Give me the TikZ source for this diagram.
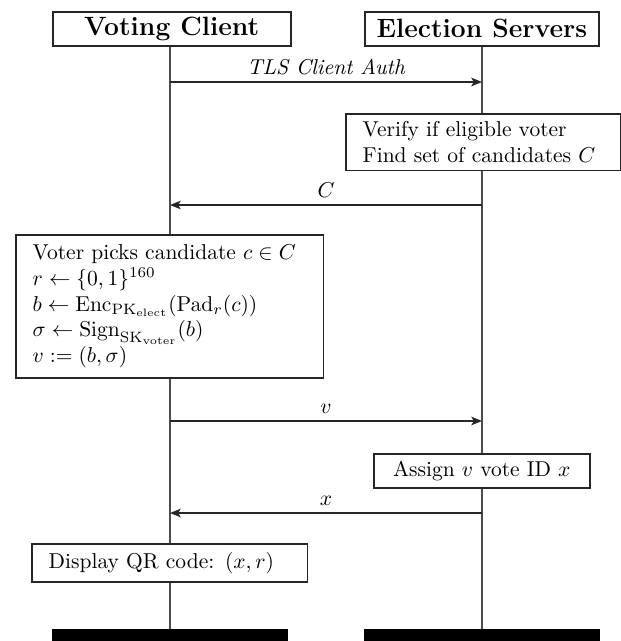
\documentclass[tikz,border=0pt]{standalone}
\usepackage{amsmath,amssymb}
\usetikzlibrary{arrows.meta,backgrounds}
\tikzset{
  hdr/.style={draw=black!85, fill=white, line width=0.7pt, font=\fontsize{12.3}{15}\selectfont\bfseries, inner sep=0pt, minimum height=15.81pt, anchor=north west},
  lbox/.style={draw=black!85, fill=white, line width=0.7pt, anchor=north west, align=left, inner xsep=7.9pt, inner ysep=0pt},
  cbox/.style={draw=black!85, fill=white, line width=0.7pt, anchor=north west, align=center, inner sep=0pt},
  life/.style={line width=0.7pt, draw=black!70},
  msg/.style={line width=0.7pt, draw=black!85, -{Stealth[length=5pt,width=4pt,inset=1.2pt]}},
  lbl/.style={above, inner sep=3pt},
  bar/.style={fill=black, draw=none, anchor=north west, inner sep=0pt, minimum height=5.58pt}
}
\begin{document}
\begin{tikzpicture}[x=0.465pt,y=-0.465pt]
\useasboundingbox (0,0) rectangle (621,641);
% headers
\node[hdr, minimum width=110.67pt] (hA) at (52,11) {Voting Client};
\node[hdr, minimum width=108.81pt] (hB) at (364,11) {Election Servers};
% bottom bars
\node[bar, minimum width=109.74pt] (eA) at (52,629) {};
\node[bar, minimum width=109.74pt] (eB) at (364,629) {};
% lifelines
\begin{pgfonlayer}{background}
\draw[life] (170,45) coordinate (lA0) -- (170,629) coordinate (lA1);
\draw[life] (482,45) coordinate (lB0) -- (482,629) coordinate (lB1);
\end{pgfonlayer}
% messages
\coordinate (m1a) at (170,82); \coordinate (m1b) at (482,82);
\draw[msg] (m1a) -- node[lbl, font=\itshape] (l1) {TLS Client Auth} (m1b);
\node[lbox, text width=112.07pt, minimum height=26.5pt] (ver) at (345,113)
  {Verify if eligible voter\\Find set of candidates $C$};
\coordinate (m2a) at (170,205); \coordinate (m2b) at (482,205);
\draw[msg] (m2b) -- node[lbl] (l2) {$C$} (m2a);
\node[lbox, text width=127.41pt, minimum height=66.5pt] (vot) at (15,234)
  {Voter picks candidate $c\in C$\\
   $r\leftarrow\{0,1\}^{160}$\\
   $b\leftarrow\mathrm{Enc}_{\mathrm{PK}_{\mathrm{elect}}}(\mathrm{Pad}_r(c))$\\
   $\sigma\leftarrow\mathrm{Sign}_{\mathrm{SK}_{\mathrm{voter}}}(b)$\\
   $v:=(b,\sigma)$};
\coordinate (m3a) at (170,421); \coordinate (m3b) at (482,421);
\draw[msg] (m3a) -- node[lbl] (l3) {$v$} (m3b);
\node[cbox, minimum width=100.44pt, minimum height=15.81pt] (asg) at (373,453)
  {Assign $v$ vote ID $x$};
\coordinate (m4a) at (170,513); \coordinate (m4b) at (482,513);
\draw[msg] (m4b) -- node[lbl] (l4) {$x$} (m4a);
\node[lbox, text width=112.53pt, minimum height=17.67pt] (dsp) at (31,543)
  {Display QR code: $(x,r)$};
\end{tikzpicture}
\end{document}
